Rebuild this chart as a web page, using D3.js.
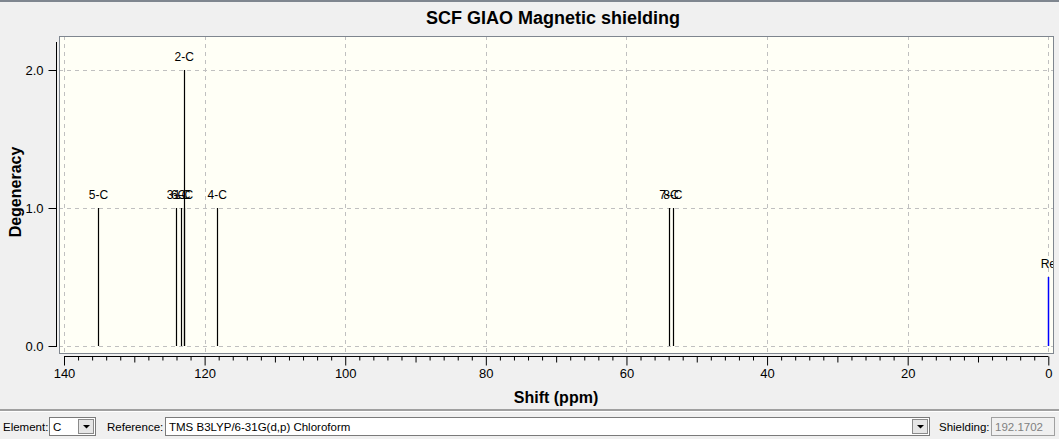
<!DOCTYPE html>
<html>
<head>
<meta charset="utf-8">
<script src="https://cdn.jsdelivr.net/npm/d3@7"></script>
<style>
  body { margin: 0; background: #f0f0f0; font-family: "Liberation Sans", "DejaVu Sans", sans-serif; }
  svg { display: block; }
</style>
</head>
<body>
<div id="chart"></div>
<script>
// peak data
const labels = ['5-C', '3-C', '6-C', '1-C', '2-C', '4-C', '7-C', '8-C'];
const shifts = [135.1, 124.0, 123.4, 123.0, 122.9, 118.2, 53.95, 53.4];
const degeneracy = [1, 1, 1, 1, 2, 1, 1, 1];
const refLabel = 'Re';
const refShift = 0;
const refHeight = 0.5;
const xTicks = [140, 120, 100, 80, 60, 40, 20, 0];
const yTicks = [0, 1, 2];

const w = 1059;
const h = 439;

const svg = d3.select('#chart')
              .append('svg')
              .attr('width', w)
              .attr('height', h);

// window top edge
svg.append('rect').attr('x', 0).attr('y', 0).attr('width', w).attr('height', 2).attr('fill', '#7f868f');

const box = { left: 59, top: 36, right: 1053, bottom: 353 };

const xScale = d3.scaleLinear().domain([140, 0]).range([64, 1048.3]);
const yScale = d3.scaleLinear().domain([0, 2]).range([346, 70]);

svg.append('text')
   .text('SCF GIAO Magnetic shielding')
   .attr('x', 553).attr('y', 24)
   .attr('text-anchor', 'middle')
   .attr('font-size', 18).attr('font-weight', 'bold');

svg.append('rect')
   .attr('x', box.left + 0.5).attr('y', box.top + 0.5)
   .attr('width', box.right - box.left).attr('height', box.bottom - box.top)
   .attr('fill', '#fffff6').attr('stroke', '#7f868f');

svg.append('clipPath').attr('id', 'plot')
   .append('rect')
   .attr('x', box.left + 1).attr('y', box.top + 1)
   .attr('width', box.right - box.left - 1).attr('height', box.bottom - box.top - 1);

const plot = svg.append('g').attr('clip-path', 'url(#plot)');

// grid
plot.selectAll('.vgrid')
    .data(xTicks)
    .enter()
    .append('line')
    .attr('x1', d => Math.round(xScale(d)) + 0.5).attr('x2', d => Math.round(xScale(d)) + 0.5)
    .attr('y1', box.top).attr('y2', box.bottom)
    .attr('stroke', '#c0c0c0').attr('stroke-dasharray', '4,4');

plot.selectAll('.hgrid')
    .data(yTicks)
    .enter()
    .append('line')
    .attr('x1', box.left).attr('x2', box.right)
    .attr('y1', d => Math.round(yScale(d)) + 0.5).attr('y2', d => Math.round(yScale(d)) + 0.5)
    .attr('stroke', '#c0c0c0').attr('stroke-dasharray', '4,4');

// peaks
const peaks = labels.map((l, i) => ({ label: l, shift: shifts[i], deg: degeneracy[i] }));

plot.selectAll('.peak')
    .data(peaks)
    .enter()
    .append('line')
    .attr('x1', d => Math.round(xScale(d.shift)) + 0.5).attr('x2', d => Math.round(xScale(d.shift)) + 0.5)
    .attr('y1', yScale(0)).attr('y2', d => yScale(d.deg))
    .attr('stroke', '#000').attr('stroke-width', 1.2);

plot.selectAll('.plabel')
    .data(peaks)
    .enter()
    .append('text')
    .text(d => d.label)
    .attr('x', d => xScale(d.shift)).attr('y', d => yScale(d.deg) - 9)
    .attr('text-anchor', 'middle')
    .attr('font-size', 12);

plot.append('line')
    .attr('x1', Math.round(xScale(refShift)) + 0.5).attr('x2', Math.round(xScale(refShift)) + 0.5)
    .attr('y1', yScale(0)).attr('y2', yScale(refHeight))
    .attr('stroke', '#0000ff').attr('stroke-width', 1.5);

plot.append('text')
    .text(refLabel)
    .attr('x', xScale(refShift)).attr('y', yScale(refHeight) - 9)
    .attr('text-anchor', 'middle')
    .attr('font-size', 12);

// y axis
const yAxis = d3.axisLeft(yScale).tickValues(yTicks).tickFormat(d3.format('.1f')).tickSize(8).tickPadding(5);
const gy = svg.append('g')
   .attr('transform', 'translate(56.5, 0)')
   .call(yAxis);
gy.select('.domain').attr('d', 'M0,42V347');
gy.selectAll('text').attr('font-size', 13).attr('font-family', '"Liberation Sans", sans-serif');

svg.append('text')
   .text('Degeneracy')
   .attr('transform', 'translate(21, 192) rotate(-90)')
   .attr('text-anchor', 'middle')
   .attr('font-size', 16).attr('font-weight', 'bold');

// x axis
const minorTicks = d3.range(0, 141, 2).filter(d => d % 20 !== 0);
const gxMinor = svg.append('g')
   .attr('transform', 'translate(0, 356.5)')
   .call(d3.axisBottom(xScale).tickValues(minorTicks).tickSize(4).tickFormat(''));
gxMinor.selectAll('.tick line').attr('y2', d => d % 10 === 0 ? 6 : 4);
gxMinor.select('.domain').remove();

const gx = svg.append('g')
   .attr('transform', 'translate(0, 356.5)')
   .call(d3.axisBottom(xScale).tickValues(xTicks).tickSize(9).tickPadding(3).tickSizeOuter(0));
gx.select('.domain').attr('d', 'M' + xScale(140) + ',0H' + xScale(0));
gx.selectAll('text').attr('font-size', 13).attr('font-family', '"Liberation Sans", sans-serif');

svg.append('text')
   .text('Shift (ppm)')
   .attr('x', 556).attr('y', 403)
   .attr('text-anchor', 'middle')
   .attr('font-size', 16).attr('font-weight', 'bold');

// bottom toolbar
svg.append('rect').attr('x', 0).attr('y', 409).attr('width', w).attr('height', 2).attr('fill', '#a0a0a0');
svg.append('rect').attr('x', 0).attr('y', 411).attr('width', w).attr('height', 1).attr('fill', '#ffffff');

const ui = svg.append('g').attr('font-size', 11.5).attr('font-family', '"Liberation Sans", sans-serif');
const combo = (x, wd, txt) => {
  ui.append('rect').attr('x', x + 0.5).attr('y', 417.5).attr('width', wd).attr('height', 18)
    .attr('fill', '#fff').attr('stroke', '#7a7a7a');
  ui.append('text').text(txt).attr('x', x + 4).attr('y', 431);
  ui.append('rect').attr('x', x + wd - 16.5).attr('y', 419.5).attr('width', 15).attr('height', 14)
    .attr('fill', '#e6e6e6').attr('stroke', '#8a8a8a');
  ui.append('path').attr('d', 'M' + (x + wd - 12) + ',425h7l-3.5,3.5z').attr('fill', '#000');
};
ui.append('text').text('Element:').attr('x', 3).attr('y', 431);
combo(49, 46, 'C');
ui.append('text').text('Reference:').attr('x', 107).attr('y', 431);
combo(165, 764, 'TMS B3LYP/6-31G(d,p) Chloroform');
ui.append('text').text('Shielding:').attr('x', 939).attr('y', 431);
ui.append('rect').attr('x', 991.5).attr('y', 417.5).attr('width', 63).attr('height', 18)
  .attr('fill', '#f0f0f0').attr('stroke', '#a0a0a0');
ui.append('text').text('192.1702').attr('x', 995).attr('y', 431).attr('fill', '#808080');
</script>
</body>
</html>
